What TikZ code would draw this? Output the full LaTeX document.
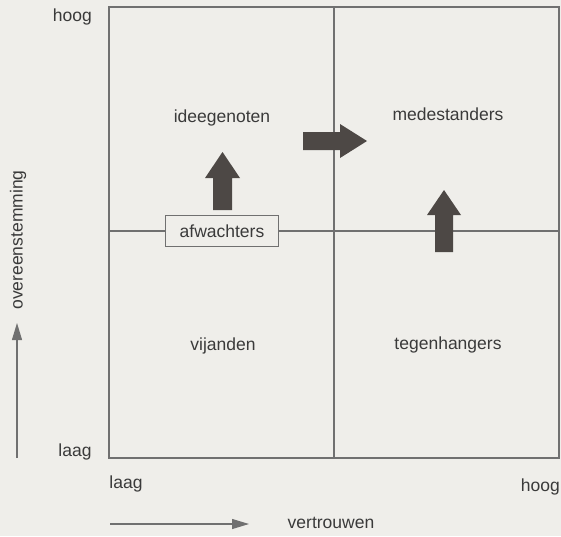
\documentclass[tikz,border=0pt]{standalone}
\usepackage{fontspec}
\setmainfont{Liberation Sans}
\usetikzlibrary{arrows.meta}
\definecolor{paper}{HTML}{EFEEEA}
\definecolor{ink}{HTML}{3A3A3A}
\definecolor{rule}{HTML}{707070}
\definecolor{block}{HTML}{4D4845}
\begin{document}
\begin{tikzpicture}[x=1pt,y=-1pt,
  lbl/.style={text=ink,font=\fontsize{17.5}{20}\selectfont,inner sep=0pt},
  grid/.style={draw=rule,line width=1.1pt},
  axis/.style={draw=rule,line width=1.1pt,-{Triangle[length=17pt,width=10pt]}},
  blockarrow/.style={fill=block,draw=none},
  waitbox/.style={lbl,draw=rule,line width=1.1pt,fill=paper,minimum width=113pt,minimum height=31pt}]
  \useasboundingbox[fill=paper] (0,0) rectangle (561,536);

  % quadrant frame
  \coordinate (tl) at (109,7);
  \coordinate (br) at (559,458);
  \draw[grid] (tl) rectangle (br);
  \coordinate (vtop) at (334,7);
  \coordinate (vbot) at (334,458);
  \draw[grid] (vtop) -- (vbot);
  \coordinate (hl) at (109,231);
  \coordinate (hr) at (559,231);
  \draw[grid] (hl) -- (hr);

  % quadrant labels
  \node[lbl] (ideegenoten) at (222,118) {ideegenoten};
  \node[lbl] (medestanders) at (448,114) {medestanders};
  \node[lbl] (vijanden) at (223,346) {vijanden};
  \node[lbl] (tegenhangers) at (448,345) {tegenhangers};
  \node[waitbox] (afwachters) at (222,231) {afwachters};

  % block arrows
  \fill[blockarrow] (213,210) -- (232,210) -- (232,178) -- (240,178) -- (222.5,152)
      -- (205,178) -- (213,178) -- cycle;
  \fill[blockarrow] (303,132) -- (340,132) -- (340,124) -- (367,141) -- (340,158)
      -- (340,150) -- (303,150) -- cycle;
  \fill[blockarrow] (435,252) -- (453,252) -- (453,215) -- (461,215) -- (444,190)
      -- (427,215) -- (435,215) -- cycle;

  % axes
  \node[lbl,anchor=east] (hoogy) at (92,17) {hoog};
  \node[lbl] (laagy) at (75,452) {laag};
  \node[lbl,rotate=90] (yname) at (18,240) {overeenstemming};
  \coordinate (ybase) at (17,458);
  \coordinate (ytip) at (17,323);
  \draw[axis] (ybase) -- (ytip);

  \node[lbl] (laagx) at (126,484) {laag};
  \node[lbl,anchor=east] (hoogx) at (560,487) {hoog};
  \node[lbl] (xname) at (331,523) {vertrouwen};
  \coordinate (xbase) at (110,524);
  \coordinate (xtip) at (249,524);
  \draw[axis] (xbase) -- (xtip);
\end{tikzpicture}
\end{document}
